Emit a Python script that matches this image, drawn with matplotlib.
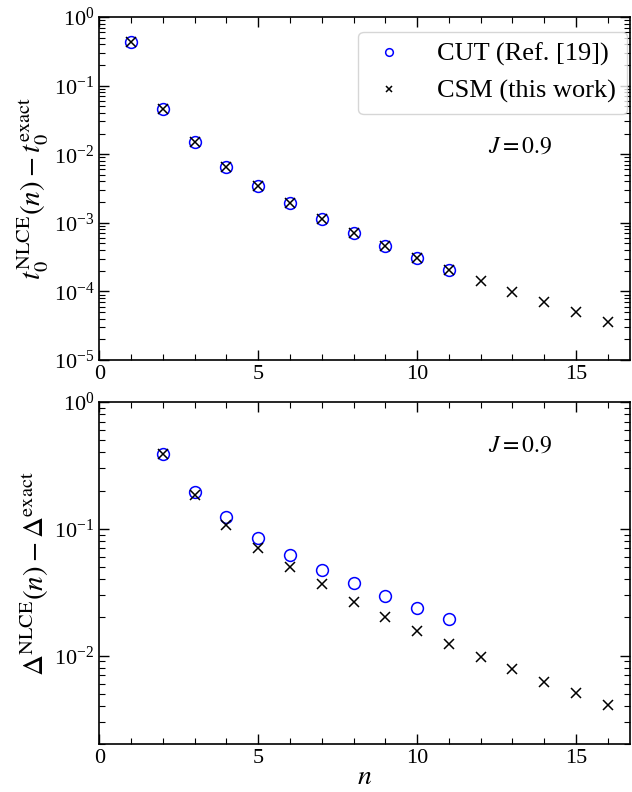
import numpy as np
import matplotlib
matplotlib.use('Agg')
import matplotlib.pyplot as plt
from matplotlib.ticker import LogLocator, MultipleLocator, NullFormatter

plt.rcParams['font.family'] = 'Liberation Serif'
plt.rcParams['mathtext.fontset'] = 'stix'

# top panel: ground-state energy error
n_cut_t0 = [1, 2, 3, 4, 5, 6, 7, 8, 9, 10, 11]
cut_t0 = [0.43, 0.045, 0.0151, 0.0066, 0.0034, 0.00192, 0.00112, 7.2e-4, 4.6e-4, 3.04e-4, 2.05e-4]
n_csm_t0 = [1, 2, 3, 4, 5, 6, 7, 8, 9, 10, 11, 12, 13, 14, 15, 16]
csm_t0 = [0.43, 0.045, 0.0151, 0.0066, 0.0034, 0.00192, 0.00112, 7.2e-4, 4.6e-4, 3.04e-4, 2.05e-4,
          1.42e-4, 9.8e-5, 6.9e-5, 4.96e-5, 3.58e-5]

# bottom panel: gap error
n_cut_gap = [2, 3, 4, 5, 6, 7, 8, 9, 10, 11]
cut_gap = [0.388, 0.195, 0.123, 0.085, 0.062, 0.0473, 0.0372, 0.0296, 0.0239, 0.0196]
n_csm_gap = [2, 3, 4, 5, 6, 7, 8, 9, 10, 11, 12, 13, 14, 15, 16]
csm_gap = [0.388, 0.184, 0.107, 0.071, 0.050, 0.0365, 0.0267, 0.0202, 0.0157, 0.0123,
           0.0097, 0.0078, 0.00625, 0.0051, 0.0041]

fig = plt.figure(figsize=(6.32, 7.92), dpi=100)
ax1 = fig.add_axes([0.157, 0.5455, 0.84, 0.4330])
ax2 = fig.add_axes([0.157, 0.0602, 0.84, 0.4322])

def style(ax, ymin):
    ax.set_yscale('log')
    ax.set_xlim(0, 16.7)
    ax.set_ylim(ymin, 1)
    ax.xaxis.set_major_locator(MultipleLocator(5))
    ax.xaxis.set_minor_locator(MultipleLocator(1))
    ax.yaxis.set_major_locator(LogLocator(base=10, numticks=10))
    ax.yaxis.set_minor_locator(LogLocator(base=10, subs=np.arange(2, 10), numticks=10))
    ax.yaxis.set_minor_formatter(NullFormatter())
    ax.tick_params(which='both', direction='in', top=True, right=True, labelsize=16)
    ax.tick_params(which='major', length=7, width=1)
    ax.tick_params(which='minor', length=4, width=0.8)
    for s in ax.spines.values():
        s.set_linewidth(1.2)

ax1.plot(n_cut_t0, cut_t0, 'o', mfc='none', mec='blue', ms=8.5, mew=1.1, label='CUT (Ref. [19])')
ax1.plot(n_csm_t0, csm_t0, 'x', color='black', ms=7.5, mew=1.1, label='CSM (this work)')
style(ax1, 1e-5)
ax1.set_ylabel(r'$t_0^{\mathrm{NLCE}}(n)-t_0^{\mathrm{exact}}$', fontsize=21, labelpad=2)
ax1.text(0.793, 0.62, r'$J=0.9$', transform=ax1.transAxes, fontsize=17, ha='center', va='center')
leg = ax1.legend(loc='upper right', bbox_to_anchor=(0.994, 0.957), borderaxespad=0,
                 fontsize=19, frameon=True, fancybox=True, markerscale=0.65,
                 handletextpad=1.1, borderpad=0.4, labelspacing=0.5, handlelength=1.5)
leg.get_frame().set_edgecolor('#cccccc')

ax2.plot(n_cut_gap, cut_gap, 'o', mfc='none', mec='blue', ms=8.5, mew=1.1)
ax2.plot(n_csm_gap, csm_gap, 'x', color='black', ms=7.5, mew=1.1)
style(ax2, 2e-3)
ax2.set_ylabel(r'$\Delta^{\mathrm{NLCE}}(n)-\Delta^{\mathrm{exact}}$', fontsize=21, labelpad=2)
ax2.set_xlabel(r'$n$', fontsize=20, labelpad=-2)
ax2.text(0.793, 0.87, r'$J=0.9$', transform=ax2.transAxes, fontsize=17, ha='center', va='center')

fig.savefig('out.png', dpi=100)
